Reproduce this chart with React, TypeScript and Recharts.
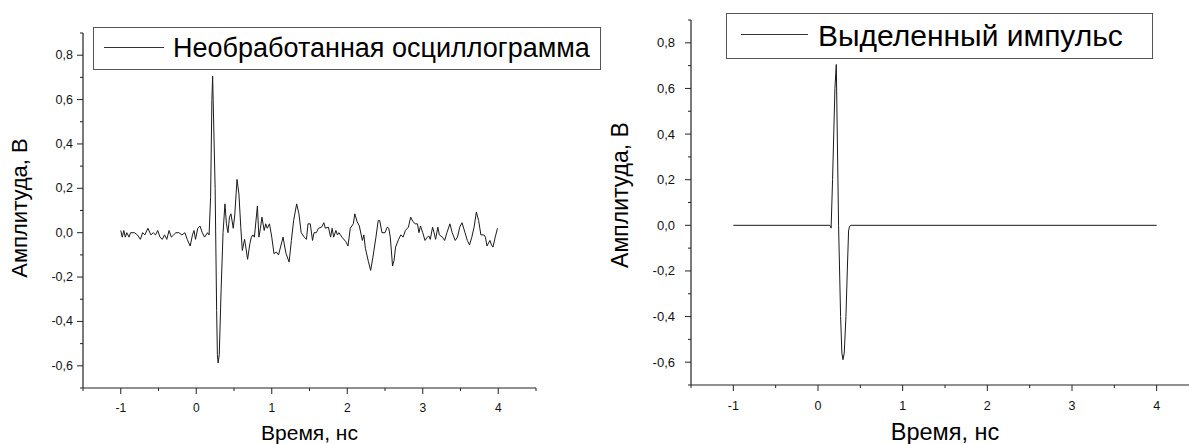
import React from "react";
import { LineChart, Line, XAxis, YAxis, Legend } from "recharts";

// raw oscillogram (time in ns, amplitude in V)
const rawTime = [
  -1.0, -0.98, -0.96, -0.94, -0.92, -0.89, -0.87, -0.82, -0.78, -0.74, -0.71, -0.68, -0.64, -0.6, -0.57, -0.54,
  -0.51, -0.48, -0.45, -0.42, -0.39, -0.36, -0.33, -0.3, -0.27, -0.23, -0.19, -0.15, -0.12, -0.08, -0.05, -0.03,
  -0.01, 0.02, 0.05, 0.08, 0.11, 0.15, 0.17,
  0.19, 0.207, 0.217, 0.25, 0.27, 0.28, 0.29, 0.305, 0.33, 0.355, 0.38,
  0.4, 0.42, 0.44, 0.46, 0.49, 0.51, 0.54, 0.565, 0.59, 0.61, 0.64, 0.65, 0.68, 0.71, 0.73, 0.75, 0.77, 0.81,
  0.83, 0.85, 0.87, 0.9, 0.92, 0.94, 0.97, 1.0, 1.03, 1.06, 1.09, 1.12, 1.15, 1.17, 1.19, 1.23, 1.26, 1.29,
  1.33, 1.36, 1.39, 1.43, 1.46, 1.48, 1.51, 1.54, 1.56, 1.59, 1.62, 1.66, 1.69, 1.71, 1.75, 1.78, 1.8, 1.82,
  1.85, 1.87, 1.89, 1.93, 1.98, 2.01, 2.04, 2.08, 2.1, 2.13, 2.16, 2.2, 2.22, 2.24, 2.28, 2.31, 2.34, 2.38,
  2.41, 2.43, 2.46, 2.5, 2.53, 2.55, 2.57, 2.6, 2.62, 2.64, 2.68, 2.71, 2.74, 2.77, 2.81, 2.84, 2.87, 2.9,
  2.93, 2.95, 2.97, 3.0, 3.03, 3.06, 3.08, 3.1, 3.13, 3.15, 3.17, 3.2, 3.22, 3.26, 3.29, 3.32, 3.36, 3.39,
  3.43, 3.46, 3.49, 3.52, 3.56, 3.59, 3.62, 3.65, 3.68, 3.71, 3.74, 3.77, 3.81, 3.83, 3.85, 3.89, 3.91, 3.93,
  3.96, 3.99,
];
const rawAmp = [
  0.01, -0.02, 0.01, -0.02, 0.0, -0.02, 0.0, 0.0, -0.01, -0.03, 0.0, -0.01, 0.02, -0.01, 0.0, -0.01,
  0.01, -0.02, -0.03, -0.01, -0.03, 0.01, -0.02, -0.01, 0.0, 0.0, -0.01, 0.0, -0.03, -0.06, -0.01, 0.01,
  -0.03, 0.02, 0.03, 0.0, -0.02, 0.0, -0.01,
  0.16, 0.6, 0.705, 0.2, -0.35, -0.55, -0.587, -0.55, -0.25, 0.0, 0.13,
  0.04, 0.0, 0.07, 0.085, 0.02, 0.08, 0.24, 0.175, 0.025, -0.08, -0.03, -0.05, -0.12, -0.05, -0.02, -0.01, -0.02, 0.12,
  -0.02, 0.02, 0.07, 0.01, 0.04, 0.02, 0.04, -0.02, -0.095, -0.087, -0.1, -0.06, -0.02, -0.06, -0.095, -0.132, -0.035, 0.055,
  0.13, 0.085, 0.0, -0.02, -0.03, 0.04, 0.04, -0.035, 0.0, 0.0, 0.02, 0.025, 0.045, 0.02, 0.025, -0.02, 0.02, -0.02,
  0.01, -0.01, 0.0, -0.02, -0.04, -0.06, 0.02, 0.04, 0.085, 0.05, 0.03, -0.035, -0.01, -0.07, -0.13, -0.17, -0.11, -0.02,
  0.055, 0.055, 0.0, 0.0, 0.025, 0.02, -0.02, -0.15, -0.125, -0.065, -0.03, -0.01, -0.02, 0.01, 0.025, 0.07, 0.05, 0.04,
  0.04, 0.0, 0.03, 0.0, -0.035, -0.02, -0.015, -0.03, 0.025, 0.0, -0.03, 0.025, -0.01, -0.02, -0.035, 0.0, 0.04, 0.0,
  -0.035, -0.02, 0.025, 0.045, 0.0, -0.035, -0.055, -0.02, 0.025, 0.093, 0.055, -0.01, -0.01, -0.02, -0.06, -0.035, -0.055, -0.065,
  -0.02, 0.02,
];

// extracted pulse
const pulseTime = [
  -1.0, 0.14, 0.155, 0.172, 0.186, 0.2, 0.216, 0.243, 0.267, 0.282, 0.295, 0.31, 0.33, 0.346, 0.361, 0.372, 0.39, 4.0,
];
const pulseAmp = [
  0.0, 0.0, -0.012, 0.2, 0.4, 0.6, 0.705, 0.0, -0.4, -0.56, -0.589, -0.56, -0.4, -0.2, -0.025, -0.005, 0.0, 0.0,
];

const xTicks = [-1.5, -1, -0.5, 0, 0.5, 1, 1.5, 2, 2.5, 3, 3.5, 4, 4.5];
const yTicks = [-0.7, -0.6, -0.5, -0.4, -0.3, -0.2, -0.1, 0, 0.1, 0.2, 0.3, 0.4, 0.5, 0.6, 0.7, 0.8, 0.9];

const rawData = rawTime.map((t, i) => ({ t, v: rawAmp[i] }));
const pulseData = pulseTime.map((t, i) => ({ t, v: pulseAmp[i] }));

const AXIS = "#222";
const fmtY = (v: number) => v.toFixed(1).replace(".", ",");

function makeXTick(labelDy: number, fontSize: number) {
  return (props: any) => {
    const { x, y, payload } = props;
    const v = payload.value as number;
    const major = Math.abs(v - Math.round(v)) < 1e-6;
    return (
      <g>
        <line x1={x} x2={x} y1={y} y2={y + (major ? 6 : 3)} stroke={AXIS} strokeWidth={1} />
        {major && (
          <text x={x} y={y + labelDy} textAnchor="middle" dominantBaseline="central" fontSize={fontSize} fill="#111">
            {v}
          </text>
        )}
      </g>
    );
  };
}

function makeYTick(gap: number, fontSize: number) {
  return (props: any) => {
    const { x, y, payload } = props;
    const v = payload.value as number;
    const major = Math.round(v * 10) % 2 === 0;
    return (
      <g>
        <line x1={x - (major ? 6 : 3)} x2={x} y1={y} y2={y} stroke={AXIS} strokeWidth={1} />
        {major && (
          <text x={x - gap} y={y} textAnchor="end" dominantBaseline="central" fontSize={fontSize} fill="#111">
            {fmtY(v)}
          </text>
        )}
      </g>
    );
  };
}

function legendBox(label: string, lineStart: number, lineW: number, gap: number, fontSize: number) {
  return () => (
    <div
      style={{
        boxSizing: "border-box",
        width: "100%",
        height: "100%",
        border: "1px solid #555",
        background: "#fff",
        display: "flex",
        alignItems: "center",
        whiteSpace: "nowrap",
      }}
    >
      <div style={{ marginLeft: lineStart, width: lineW, borderTop: "1px solid #333", marginTop: -3 }} />
      <span style={{ marginLeft: gap, fontSize, color: "#000", lineHeight: 1 }}>{label}</span>
    </div>
  );
}

export default function App() {
  return (
    <div
      style={{
        position: "absolute",
        left: 0,
        top: 0,
        width: 1189,
        height: 444,
        overflow: "hidden",
        background: "#fff",
        fontFamily: '"Liberation Sans", Arial, sans-serif',
      }}
    >
      <div style={{ position: "absolute", left: 0, top: 0 }}>
        <LineChart width={560} height={444} data={rawData} margin={{ top: 33, right: 24, bottom: 0, left: 0 }}>
          <XAxis
            dataKey="t"
            type="number"
            domain={[-1.5, 4.5]}
            ticks={xTicks}
            interval={0}
            height={56}
            tickSize={0}
            tickMargin={0}
            tickLine={false}
            axisLine={{ stroke: AXIS, strokeWidth: 1.2 }}
            tick={makeXTick(20, 12)}
            label={{
              content: () => (
                <text x={309.5} y={440} textAnchor="middle" fontSize={21} fill="#000">
                  Время, нс
                </text>
              ),
            }}
          />
          <YAxis
            type="number"
            domain={[-0.7, 0.9]}
            ticks={yTicks}
            interval={0}
            width={83}
            tickSize={0}
            tickMargin={0}
            tickLine={false}
            axisLine={{ stroke: AXIS, strokeWidth: 1.2 }}
            tick={makeYTick(10, 12.5)}
            label={{
              content: () => (
                <text x={27} y={208} transform="rotate(-90 27 208)" textAnchor="middle" fontSize={22} fill="#000">
                  Амплитуда, В
                </text>
              ),
            }}
          />
          <Legend
            layout="vertical"
            align="center"
            verticalAlign="middle"
            wrapperStyle={{ left: 93, top: 27, width: 508, height: 43 }}
            content={legendBox("Необработанная осциллограмма", 10, 60, 9, 27)}
          />
          <Line
            type="linear"
            dataKey="v"
            name="Необработанная осциллограмма"
            stroke="#1a1a1a"
            strokeWidth={1}
            dot={false}
            isAnimationActive={false}
          />
        </LineChart>
      </div>

      <div style={{ position: "absolute", left: 600, top: 0 }}>
        <LineChart width={610} height={444} data={pulseData} margin={{ top: 20, right: 11, bottom: 0, left: 0 }}>
          <XAxis
            dataKey="t"
            type="number"
            domain={[-1.5, 4.5]}
            ticks={xTicks}
            interval={0}
            height={59}
            tickSize={0}
            tickMargin={0}
            tickLine={false}
            axisLine={{ stroke: AXIS, strokeWidth: 1.2 }}
            tick={makeXTick(21, 12.5)}
            label={{
              content: () => (
                <text x={345} y={440} textAnchor="middle" fontSize={23.5} fill="#000">
                  Время, нс
                </text>
              ),
            }}
          />
          <YAxis
            type="number"
            domain={[-0.7, 0.9]}
            ticks={yTicks}
            interval={0}
            width={91}
            tickSize={0}
            tickMargin={0}
            tickLine={false}
            axisLine={{ stroke: AXIS, strokeWidth: 1.2 }}
            tick={makeYTick(16, 13)}
            label={{
              content: () => (
                <text x={28} y={195} transform="rotate(-90 28 195)" textAnchor="middle" fontSize={23} fill="#000">
                  Амплитуда, В
                </text>
              ),
            }}
          />
          <Legend
            layout="vertical"
            align="center"
            verticalAlign="middle"
            wrapperStyle={{ left: 126, top: 13, width: 427, height: 46 }}
            content={legendBox("Выделенный импульс", 14, 67, 10, 30)}
          />
          <Line
            type="linear"
            dataKey="v"
            name="Выделенный импульс"
            stroke="#1a1a1a"
            strokeWidth={1}
            dot={false}
            isAnimationActive={false}
          />
        </LineChart>
      </div>
    </div>
  );
}
